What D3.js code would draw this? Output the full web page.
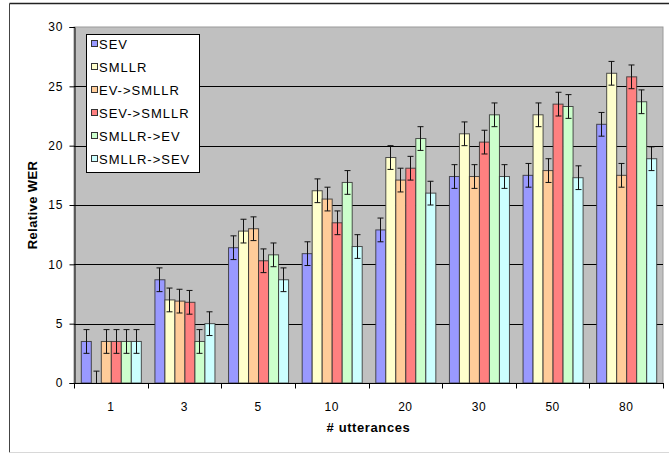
<!DOCTYPE html>
<html>
<head>
<meta charset="utf-8">
<script src="https://cdn.jsdelivr.net/npm/d3@7/dist/d3.min.js"></script>
<style>
  html, body { margin: 0; padding: 0; background: #fff; }
  svg { display: block; font-family: "Liberation Sans", Arial, sans-serif; }
</style>
</head>
<body>
<svg id="chart" width="669" height="455"></svg>
<script>
// Number of utterances used for adaptation
const categories = ["1", "3", "5", "10", "20", "30", "50", "80"];

// Adaptation methods
const seriesNames = ["SEV", "SMLLR", "EV->SMLLR", "SEV->SMLLR", "SMLLR->EV", "SMLLR->SEV"];

// Relative WER improvement per method
const sev        = [3.5, 8.7, 11.4, 10.9, 12.9, 17.4, 17.5, 21.8];
const smllr      = [0.0, 7.0, 12.8, 16.2, 19.0, 21.0, 22.6, 26.1];
const evSmllr    = [3.5, 6.9, 13.0, 15.5, 17.1, 17.4, 17.9, 17.5];
const sevSmllr   = [3.5, 6.8, 10.3, 13.5, 18.1, 20.3, 23.5, 25.8];
const smllrEv    = [3.5, 3.5, 10.8, 16.9, 20.6, 22.6, 23.3, 23.7];
const smllrSev   = [3.5, 5.0, 8.7, 11.5, 16.0, 17.4, 17.3, 18.9];

// Half-width of the error bars, per method
const errorMargins = [1.0, 1.0, 1.0, 1.0, 1.0, 1.0];

const yTicks = [0, 5, 10, 15, 20, 25, 30];

const colors = ["#9999ff", "#ffffcc", "#ffcc99", "#ff8080", "#ccffcc", "#ccffff"];

const seriesValues = [sev, smllr, evSmllr, sevSmllr, smllrEv, smllrSev];

const svg = d3.select("#chart");

const plot = { left: 74, right: 663, top: 27, bottom: 383 };

// Chart area frame
svg.append("line").attr("x1", 9.5).attr("x2", 9.5).attr("y1", 3.5).attr("y2", 452.5)
  .attr("stroke", "#444").attr("stroke-width", 1);
svg.append("line").attr("x1", 9.5).attr("x2", 669).attr("y1", 3.5).attr("y2", 3.5)
  .attr("stroke", "#222").attr("stroke-width", 1.5);
svg.append("line").attr("x1", 9.5).attr("x2", 669).attr("y1", 452.5).attr("y2", 452.5)
  .attr("stroke", "#d8d8d8").attr("stroke-width", 1);

const x0 = d3.scaleBand()
  .domain(categories)
  .range([plot.left, plot.right])
  .padding(0);

const x1 = d3.scaleBand()
  .domain(seriesNames)
  .range([0, x0.bandwidth()])
  .paddingInner(0)
  .paddingOuter(0.68);

const y = d3.scaleLinear()
  .domain([0, 30])
  .range([plot.bottom, plot.top]);

// Plot background
svg.append("rect")
  .attr("x", plot.left).attr("y", plot.top)
  .attr("width", plot.right - plot.left).attr("height", plot.bottom - plot.top)
  .attr("fill", "#c0c0c0")
  .attr("stroke", "#9a9a9a").attr("stroke-width", 1);

// Horizontal gridlines
svg.append("g")
  .selectAll("line")
  .data(yTicks.filter(t => t > 0 && t < 30))
  .join("line")
  .attr("x1", plot.left).attr("x2", plot.right)
  .attr("y1", d => Math.round(y(d)) + 0.5).attr("y2", d => Math.round(y(d)) + 0.5)
  .attr("stroke", "#000").attr("stroke-width", 1);

// Bars
const rows = [];
categories.forEach((c, ci) => {
  seriesNames.forEach((s, si) => {
    rows.push({ cat: c, name: s, value: seriesValues[si][ci], err: errorMargins[si], color: colors[si] });
  });
});

const barG = svg.append("g");
barG.selectAll("rect")
  .data(rows)
  .join("rect")
  .attr("x", d => x0(d.cat) + x1(d.name) + 0.5)
  .attr("y", d => y(d.value))
  .attr("width", x1.bandwidth())
  .attr("height", d => y(0) - y(d.value))
  .attr("fill", d => d.color)
  .attr("stroke", "#333")
  .attr("stroke-opacity", 0.85)
  .attr("stroke-width", 1);

// Error bars
const errG = svg.append("g").attr("stroke", "#111").attr("stroke-width", 1).attr("fill", "none");
rows.forEach(d => {
  const cx = Math.round(x0(d.cat) + x1(d.name) + x1.bandwidth() / 2) + 0.5;
  const hi = y(d.value + d.err);
  const lo = y(Math.max(0, d.value - d.err));
  errG.append("line").attr("x1", cx).attr("x2", cx).attr("y1", hi).attr("y2", lo);
  errG.append("line").attr("x1", cx - 3).attr("x2", cx + 3).attr("y1", hi).attr("y2", hi);
  if (d.value - d.err > 0) {
    errG.append("line").attr("x1", cx - 3).attr("x2", cx + 3).attr("y1", lo).attr("y2", lo);
  }
});

// Y axis
const yAxis = d3.axisLeft(y).tickValues(yTicks).tickSize(5).tickPadding(6);
const yG = svg.append("g")
  .attr("transform", `translate(${plot.left + 0.5},0)`)
  .call(yAxis);
yG.selectAll("text").attr("font-size", 12).attr("letter-spacing", 1)
  .attr("font-family", "'Liberation Sans', Arial, sans-serif").attr("fill", "#000");
yG.selectAll("line, path").attr("stroke", "#000");

// X axis: ticks sit on category boundaries
const xG = svg.append("g").attr("transform", `translate(0,${plot.bottom + 0.5})`);
xG.append("line").attr("x1", plot.left).attr("x2", plot.right + 1).attr("stroke", "#000");
xG.selectAll("line.tick")
  .data(categories.concat(["end"]))
  .join("line")
  .attr("class", "tick")
  .attr("x1", (d, i) => Math.round(plot.left + i * x0.step()) + 0.5)
  .attr("x2", (d, i) => Math.round(plot.left + i * x0.step()) + 0.5)
  .attr("y1", 0).attr("y2", 5)
  .attr("stroke", "#000");
xG.selectAll("text")
  .data(categories)
  .join("text")
  .attr("x", d => x0(d) + x0.bandwidth() / 2)
  .attr("y", 27)
  .attr("text-anchor", "middle")
  .attr("font-size", 12)
  .attr("letter-spacing", 0.5)
  .attr("fill", "#000")
  .text(d => d);

// Axis titles
svg.append("text")
  .attr("x", (plot.left + plot.right) / 2)
  .attr("y", 432)
  .attr("text-anchor", "middle")
  .attr("font-size", 13)
  .attr("font-weight", "bold")
  .attr("letter-spacing", 0.6)
  .text("# utterances");

svg.append("text")
  .attr("transform", `translate(37,${(plot.top + plot.bottom) / 2}) rotate(-90)`)
  .attr("text-anchor", "middle")
  .attr("font-size", 13)
  .attr("font-weight", "bold")
  .attr("letter-spacing", 0.4)
  .text("Relative WER");

// Legend
const legend = svg.append("g");
legend.append("rect")
  .attr("x", 86.5).attr("y", 34.5)
  .attr("width", 113).attr("height", 138)
  .attr("fill", "#fff").attr("stroke", "#000");

const legendRows = legend.selectAll("g.item")
  .data(seriesNames)
  .join("g")
  .attr("class", "item")
  .attr("transform", (d, i) => `translate(0,${44 + i * 23})`);

legendRows.append("rect")
  .attr("x", 91.5).attr("y", -3.5)
  .attr("width", 6).attr("height", 6)
  .attr("fill", (d, i) => colors[i])
  .attr("stroke", "#333");

legendRows.append("text")
  .attr("x", 99)
  .attr("y", 4.5)
  .attr("font-size", 13)
  .attr("letter-spacing", 1)
  .attr("fill", "#000")
  .text(d => d);
</script>
</body>
</html>
